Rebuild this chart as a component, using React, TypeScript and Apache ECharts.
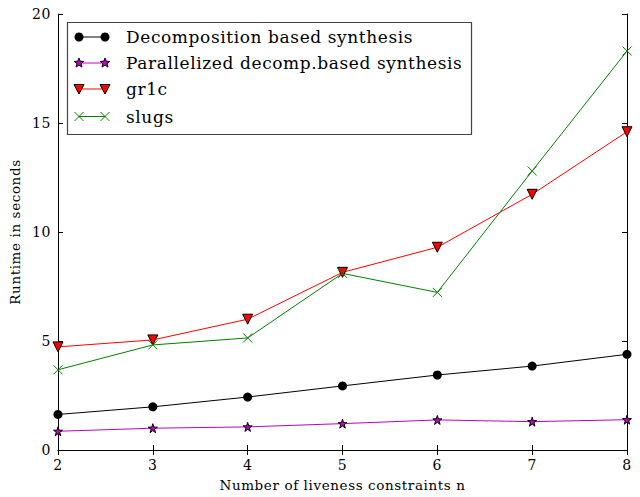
import React, { useEffect, useRef } from "react";
import * as echarts from "echarts";

const xValues = [2, 3, 4, 5, 6, 7, 8];
const decomp = [1.63, 1.98, 2.43, 2.94, 3.44, 3.85, 4.39];
const parallel = [0.86, 1.0, 1.06, 1.21, 1.38, 1.3, 1.39];
const gr1c = [4.73, 5.05, 6.0, 8.15, 9.3, 11.73, 14.6];
const slugs = [3.68, 4.82, 5.14, 8.1, 7.23, 12.8, 18.3];
const seriesNames = [
  "Decomposition based synthesis",
  "Parallelized decomp.based synthesis",
  "gr1c",
  "slugs",
];
const xTicks = { min: 2, max: 8, interval: 1 };
const yTicks = { min: 0, max: 20, interval: 5 };

const FONT = "DejaVu Serif";
const STAR = "path://M50,0L61.8,35.4L100,35.4L69.1,57.3L80.9,92.7L50,70.8L19.1,92.7L30.9,57.3L0,35.4L38.2,35.4Z";
const XMARK = "path://M0,0L10,10M10,0L0,10";

function starPoints(cx: number, cy: number, R: number, r: number) {
  const pts: number[][] = [];
  for (let i = 0; i < 10; i++) {
    const a = -Math.PI / 2 + (i * Math.PI) / 5;
    const rad = i % 2 === 0 ? R : r;
    pts.push([cx + rad * Math.cos(a), cy + rad * Math.sin(a)]);
  }
  return pts;
}

export default function App() {
  const ref = useRef<HTMLDivElement>(null);
  useEffect(() => {
    if (!ref.current) return;
    const chart = echarts.init(ref.current, null, { renderer: "svg" });
    const pair = (arr: number[]) => xValues.map((x, i) => [x, arr[i]]);
    const axisCommon = {
      type: "value" as const,
      axisLine: { show: true, lineStyle: { color: "#000", width: 1 } },
      axisTick: { show: true, inside: true, length: 5, lineStyle: { color: "#000" } },
      splitLine: { show: false },
    };
    const label = { color: "#000", fontFamily: FONT, fontSize: 14 };

    const lx1 = 79, lx2 = 105, rows = [37, 63, 89, 116.5], tx = 126;
    const legendGraphics: any[] = [
      { type: "rect", shape: { x: 67.5, y: 22.5, width: 404, height: 112 }, style: { fill: "#fff", stroke: "#444", lineWidth: 1.2 }, z: 100 },
    ];
    const colors = ["#000000", "#bf00bf", "#ff0000", "#008000"];
    rows.forEach((y, i) => {
      legendGraphics.push({ type: "line", shape: { x1: lx1, y1: y, x2: lx2, y2: y }, style: { stroke: colors[i], lineWidth: 1 }, z: 101 });
      [lx1, lx2].forEach((x) => {
        if (i === 0) legendGraphics.push({ type: "circle", shape: { cx: x, cy: y, r: 4.5 }, style: { fill: "#000" }, z: 102 });
        if (i === 1) legendGraphics.push({ type: "polygon", shape: { points: starPoints(x, y, 5, 2.2) }, style: { fill: "#bf00bf", stroke: "#000", lineWidth: 1 }, z: 102 });
        if (i === 2) legendGraphics.push({ type: "polygon", shape: { points: [[x - 5, y - 4.5], [x + 5, y - 4.5], [x, y + 5]] }, style: { fill: "#ff0000", stroke: "#000", lineWidth: 1 }, z: 102 });
        if (i === 3) {
          legendGraphics.push({ type: "line", shape: { x1: x - 4.5, y1: y - 4.5, x2: x + 4.5, y2: y + 4.5 }, style: { stroke: "#008000", lineWidth: 1 }, z: 102 });
          legendGraphics.push({ type: "line", shape: { x1: x - 4.5, y1: y + 4.5, x2: x + 4.5, y2: y - 4.5 }, style: { stroke: "#008000", lineWidth: 1 }, z: 102 });
        }
      });
      legendGraphics.push({ type: "text", x: tx, y, style: { text: seriesNames[i], fill: "#000", font: `17px "${FONT}"`, textVerticalAlign: "middle" }, z: 102 });
    });

    chart.setOption({
      animation: false,
      backgroundColor: "#fff",
      grid: { left: 58, right: 13, top: 14, bottom: 43, containLabel: false },
      xAxis: [
        {
          ...axisCommon, ...xTicks, position: "bottom",
          axisLabel: { ...label, margin: 8 },
          name: "Number of liveness constraints n", nameLocation: "middle", nameGap: 28,
          nameTextStyle: { color: "#000", fontFamily: FONT, fontSize: 13.5 },
        },
        { ...axisCommon, ...xTicks, position: "top", axisLabel: { show: false } },
      ],
      yAxis: [
        {
          ...axisCommon, ...yTicks, position: "left",
          axisLabel: { ...label, margin: 7 },
          name: "Runtime in seconds", nameLocation: "middle", nameGap: 35,
          nameTextStyle: { color: "#000", fontFamily: FONT, fontSize: 13.5 },
        },
        { ...axisCommon, ...yTicks, position: "right", axisLabel: { show: false } },
      ],
      graphic: legendGraphics,
      series: [
        {
          name: seriesNames[0], type: "line", data: pair(decomp), symbol: "circle", symbolSize: 9,
          lineStyle: { color: "#000", width: 1 }, itemStyle: { color: "#000" }, clip: true,
        },
        {
          name: seriesNames[1], type: "line", data: pair(parallel), symbol: STAR, symbolSize: 9,
          lineStyle: { color: "#bf00bf", width: 1 }, itemStyle: { color: "#bf00bf", borderColor: "#000", borderWidth: 1 }, clip: true,
        },
        {
          name: seriesNames[2], type: "line", data: pair(gr1c), symbol: "triangle", symbolRotate: 180, symbolSize: 10,
          lineStyle: { color: "#ff0000", width: 1 }, itemStyle: { color: "#ff0000", borderColor: "#000", borderWidth: 1 }, clip: true,
        },
        {
          name: seriesNames[3], type: "line", data: pair(slugs), symbol: XMARK, symbolSize: 9,
          lineStyle: { color: "#008000", width: 1 }, itemStyle: { color: "none", borderColor: "#008000", borderWidth: 1 }, clip: true,
        },
      ],
    });
    return () => chart.dispose();
  }, []);
  return <div ref={ref} style={{ width: 640, height: 497, position: "absolute", left: 0, top: 0, letterSpacing: "0.6px" }} />;
}
